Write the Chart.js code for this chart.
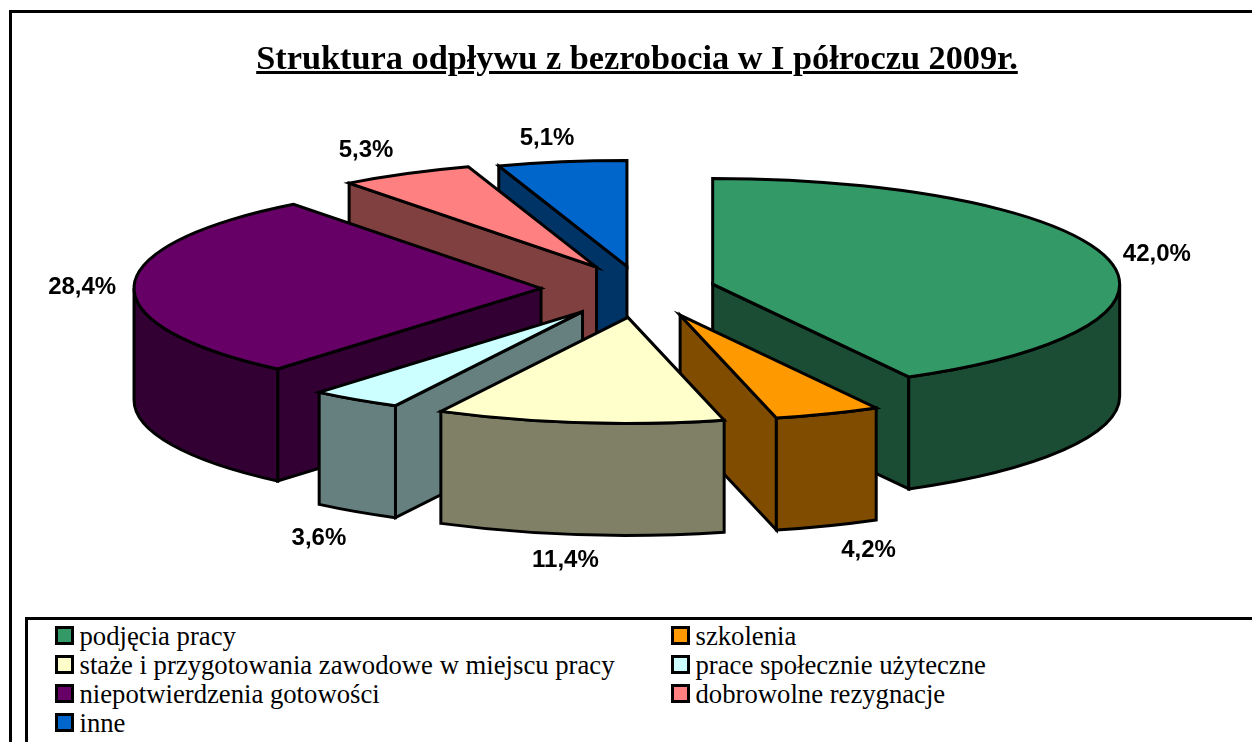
<!DOCTYPE html>
<html lang="pl">
<head>
<meta charset="utf-8">
<title>Struktura odpływu z bezrobocia</title>
<script src="https://cdn.jsdelivr.net/npm/chart.js@4"></script>
<style>
  html, body { margin: 0; padding: 0; background: #fff; overflow: hidden; }
  #page { position: relative; width: 1252px; height: 742px; overflow: hidden; }
  #pie { position: absolute; left: 0; top: 0; }
  #frame { position: absolute; left: 9px; top: 10px; width: 1300px; height: 800px; border: 3px solid #000; }
  #chart-title {
    position: absolute; left: 0; top: 38px; width: 1274px; text-align: center;
    font: bold 34.3px "Liberation Serif", serif; text-decoration: underline; color: #000;
  }
  #legend {
    position: absolute; left: 25px; top: 617px; width: 1300px; height: 200px;
    border: 3px solid #000; background: #fff;
    font: 26.7px/29px "Liberation Serif", serif; color: #000;
  }
  .item { position: absolute; white-space: nowrap; }
  .swatch {
    position: absolute; left: 0; top: 4px; width: 13px; height: 13px;
    border: 3px solid #000;
  }
  .item span.text { position: absolute; left: 24.5px; top: 0; }
</style>
</head>
<body>
<div id="page">
  <div id="frame"></div>
  <canvas id="pie" width="1252" height="742"></canvas>
  <div id="chart-title">Struktura odpływu z bezrobocia w I półroczu 2009r.</div>
  <div id="legend"></div>
</div>
<script>
const categories = [
  "podjęcia pracy",
  "szkolenia",
  "staże i przygotowania zawodowe w miejscu pracy",
  "prace społecznie użyteczne",
  "niepotwierdzenia gotowości",
  "dobrowolne rezygnacje",
  "inne",
];
const shares = [42.0, 4.2, 11.4, 3.6, 28.4, 5.3, 5.1];
const topColors = ["#339966", "#ff9900", "#ffffcc", "#ccffff", "#660066", "#ff8080", "#0066cc"];
const sideColors = ["#1a4d33", "#804d00", "#808066", "#668080", "#330033", "#804040", "#003366"];
// how far each slice is pulled out of the pie
const explode = [74, 108, 110, 105, 100, 95, 88];
// label nudge from the rim of the slice
const labelNudge = [[50, -4], [41, 25], [-14, 26], [-37, 27], [-52, 2], [-40, -23], [-15, -24]];

const SQUASH = 0.26; // tilt of the pie
const DEPTH = 112; // wall height

function outline(ctx) {
  ctx.strokeStyle = "#000";
  ctx.lineWidth = 3;
  ctx.lineJoin = "miter";
  ctx.stroke();
}

function drawSlice(ctx, arc, i) {
  const { x, y, startAngle: a, endAngle: b, outerRadius: rx } = arc;
  const ry = rx * SQUASH;
  const mid = (a + b) / 2;
  const ax = x + Math.cos(mid) * explode[i];
  const ay = y + Math.sin(mid) * explode[i] * SQUASH;
  const rim = (t) => [ax + Math.cos(t) * rx, ay + Math.sin(t) * ry];

  // radial walls, only the ones facing the viewer
  const wall = (t) => {
    const [px, py] = rim(t);
    ctx.beginPath();
    ctx.moveTo(ax, ay);
    ctx.lineTo(px, py);
    ctx.lineTo(px, py + DEPTH);
    ctx.lineTo(ax, ay + DEPTH);
    ctx.closePath();
    ctx.fillStyle = sideColors[i];
    ctx.fill();
    outline(ctx);
  };
  if (Math.cos(a) < -1e-6) wall(a);
  if (Math.cos(b) > 1e-6) wall(b);

  // outer wall
  const from = Math.max(a, 0);
  const to = Math.min(b, Math.PI);
  if (to > from) {
    ctx.beginPath();
    ctx.ellipse(ax, ay, rx, ry, 0, from, to);
    ctx.ellipse(ax, ay + DEPTH, rx, ry, 0, to, from, true);
    ctx.closePath();
    ctx.fillStyle = sideColors[i];
    ctx.fill();
    outline(ctx);
  }

  // top face comes from the library's own arc, squashed and pulled out
  ctx.save();
  ctx.translate(x, y);
  ctx.scale(1, SQUASH);
  ctx.translate(-x, -y);
  ctx.translate(Math.cos(mid) * explode[i], Math.sin(mid) * explode[i]);
  arc.draw(ctx);
  ctx.restore();

  ctx.beginPath();
  ctx.moveTo(ax, ay);
  ctx.ellipse(ax, ay, rx, ry, 0, a, b);
  ctx.closePath();
  outline(ctx);

  return { ax, ay, rx, ry, mid };
}

const pie3d = {
  id: "pie3d",
  beforeDatasetsDraw(chart) {
    const ctx = chart.ctx;
    const arcs = chart.getDatasetMeta(0).data;
    // back slices first
    const order = arcs
      .map((arc, i) => ({
        arc,
        i,
        depth: Math.sin((arc.startAngle + arc.endAngle) / 2) * explode[i] * SQUASH,
      }))
      .sort((p, q) => p.depth - q.depth);

    const spots = [];
    order.forEach(({ arc, i }) => {
      spots[i] = drawSlice(ctx, arc, i);
    });

    // value labels
    ctx.save();
    ctx.font = 'bold 24px "Liberation Sans", Arial, sans-serif';
    ctx.fillStyle = "#000";
    ctx.textAlign = "center";
    ctx.textBaseline = "middle";
    spots.forEach((s, i) => {
      const front = Math.sin(s.mid) > 0.5 ? DEPTH : 0;
      const lx = s.ax + Math.cos(s.mid) * s.rx + labelNudge[i][0];
      const ly = s.ay + Math.sin(s.mid) * s.ry + front + labelNudge[i][1];
      ctx.fillText(shares[i].toFixed(1).replace(".", ",") + "%", lx, ly);
    });
    ctx.restore();
    return false; // slices are already painted in the right order
  },
};

new Chart(document.getElementById("pie"), {
  type: "pie",
  data: {
    labels: categories,
    datasets: [
      {
        data: shares,
        backgroundColor: topColors,
        borderWidth: 0,
      },
    ],
  },
  options: {
    responsive: false,
    animation: false,
    radius: 407,
    layout: { padding: { left: 30, bottom: 164 } },
    plugins: {
      legend: { display: false },
      title: { display: false },
      tooltip: { enabled: false },
    },
  },
  plugins: [pie3d],
});

// legend box, two columns filled row by row
const legendBox = document.getElementById("legend");
categories.forEach((name, i) => {
  const item = document.createElement("div");
  item.className = "item";
  item.style.left = (i % 2 ? 643 : 27) + "px";
  item.style.top = 2 + Math.floor(i / 2) * 29 + "px";
  const swatch = document.createElement("span");
  swatch.className = "swatch";
  swatch.style.background = topColors[i];
  const text = document.createElement("span");
  text.className = "text";
  text.textContent = name;
  item.append(swatch, text);
  legendBox.appendChild(item);
});
</script>
</body>
</html>
